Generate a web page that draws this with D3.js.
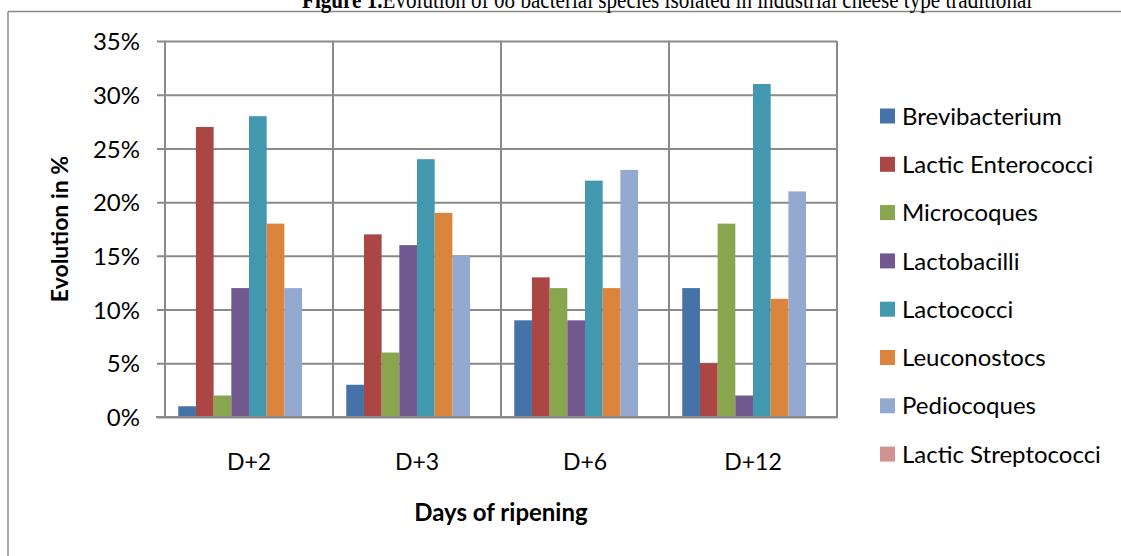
<!DOCTYPE html>
<html>
<head>
<meta charset="utf-8">
<script src="https://cdn.jsdelivr.net/npm/d3@7"></script>
<style>
  html, body { margin: 0; padding: 0; background: #fff; }
  svg { display: block; }
  text { font-family: Lato, "Open Sans", sans-serif; fill: #000; }
</style>
</head>
<body>
<svg id="chart" width="1121" height="556"></svg>
<script>
// Days of ripening (categories)
const days = ["D+2", "D+3", "D+6", "D+12"];
// Bacterial groups (series)
const species = ["Brevibacterium", "Lactic Enterococci", "Microcoques", "Lactobacilli",
                 "Lactococci", "Leuconostocs", "Pediocoques", "Lactic Streptococci"];
// Percentage of each group per day, one array per series
const brevibacterium     = [1, 3, 9, 12];
const lacticEnterococci  = [27, 17, 13, 5];
const microcoques        = [2, 6, 12, 18];
const lactobacilli       = [12, 16, 9, 2];
const lactococci         = [28, 24, 22, 31];
const leuconostocs       = [18, 19, 12, 11];
const pediocoques        = [12, 15, 23, 21];
const lacticStreptococci = [0, 0, 0, 0];
const seriesValues = [brevibacterium, lacticEnterococci, microcoques, lactobacilli,
                      lactococci, leuconostocs, pediocoques, lacticStreptococci];
const colors = ["#4572A7", "#AA4643", "#89A54E", "#71588F",
                "#4198AF", "#DB843D", "#93A9CF", "#D19392"];
const yTicks = [0, 5, 10, 15, 20, 25, 30, 35];

const svg = d3.select("#chart");
const plot = { left: 165, right: 837, top: 41, bottom: 417 };
const gridColor = "#8a8a8a";

// Outer frame (top and left edges visible)
svg.append("line").attr("x1", 8).attr("x2", 1121).attr("y1", 11.5).attr("y2", 11.5)
  .attr("stroke", "#8a8a8a").attr("stroke-width", 1.5);
svg.append("line").attr("x1", 8).attr("x2", 8).attr("y1", 11.5).attr("y2", 556)
  .attr("stroke", "#8a8a8a").attr("stroke-width", 1.5);

// Title above the frame: bold figure number followed by the caption,
// squeezed horizontally to a condensed serif look
const title = svg.append("text")
  .attr("x", 0).attr("y", 0)
  .style("font-family", "'Liberation Serif', 'DejaVu Serif', serif")
  .style("font-size", "25px");
title.append("tspan").style("font-weight", "bold").text("Figure 1.");
title.append("tspan").text("Evolution of 08 bacterial species isolated in industrial cheese type traditional");
const titleW = title.node().getComputedTextLength();
title.attr("transform", `translate(302,8) scale(${731 / titleW},1)`);

const x0 = d3.scaleBand().domain(days).range([plot.left, plot.right]).paddingInner(0).paddingOuter(0);
const groupW = x0.bandwidth();
const barW = groupW / (species.length + 1.5);
const x1 = d3.scaleBand().domain(species)
  .range([barW * 0.75, barW * 0.75 + barW * species.length]);
const y = d3.scaleLinear().domain([0, 35]).range([plot.bottom, plot.top]);

// Horizontal gridlines with tick marks
const yAxis = d3.axisLeft(y).tickValues(yTicks).tickSize(plot.right - plot.left + 8)
  .tickFormat(d => d + "%");
const gy = svg.append("g").attr("transform", `translate(${plot.right},0)`).call(yAxis);
gy.select(".domain").remove();
gy.selectAll(".tick line").attr("stroke", gridColor).attr("stroke-width", 2);
gy.selectAll(".tick text").attr("x", -(plot.right - plot.left) - 25)
  .style("font-size", "24px").attr("dy", "0.36em");

// Vertical category dividers and plot edges
const dividers = days.map(d => x0(d)).concat([plot.right]);
svg.append("g").selectAll("line").data(dividers).join("line")
  .attr("x1", d => d).attr("x2", d => d)
  .attr("y1", plot.top).attr("y2", plot.bottom)
  .attr("stroke", gridColor).attr("stroke-width", 2);

// Bars
const groups = svg.append("g").selectAll("g").data(days).join("g")
  .attr("transform", d => `translate(${x0(d)},0)`);
groups.selectAll("rect")
  .data((d, i) => species.map((s, k) => ({ s, v: seriesValues[k][i], c: colors[k] })))
  .join("rect")
  .attr("x", d => x1(d.s))
  .attr("width", x1.bandwidth())
  .attr("y", d => y(d.v))
  .attr("height", d => plot.bottom - y(d.v))
  .attr("fill", d => d.c);

// Baseline over bars
svg.append("line").attr("x1", plot.left - 9).attr("x2", plot.right + 1)
  .attr("y1", plot.bottom).attr("y2", plot.bottom)
  .attr("stroke", gridColor).attr("stroke-width", 2);

// Category labels
const xAxis = d3.axisBottom(x0).tickSize(0);
const gx = svg.append("g").attr("transform", `translate(0,${plot.bottom})`).call(xAxis);
gx.select(".domain").remove();
gx.selectAll(".tick text").attr("y", 45).attr("dy", "0.36em").style("font-size", "23px");

// Axis titles
svg.append("text").attr("x", plot.left + (plot.right - plot.left) / 2).attr("y", 512)
  .attr("text-anchor", "middle").attr("dy", "0.36em")
  .style("font-weight", "bold").style("font-size", "24px").text("Days of ripening");
svg.append("text")
  .attr("transform", `translate(60,${(plot.top + plot.bottom) / 2}) rotate(-90)`)
  .attr("text-anchor", "middle").attr("dy", "0.36em")
  .style("font-weight", "bold").style("font-size", "23px").text("Evolution in %");

// Legend
const legend = svg.append("g").selectAll("g").data(species).join("g")
  .attr("transform", (d, i) => `translate(880,${116 + i * 48.3})`);
legend.append("rect").attr("x", 0).attr("y", -7.5).attr("width", 15).attr("height", 15)
  .attr("fill", (d, i) => colors[i]);
legend.append("text").attr("x", 22).attr("dy", "0.36em").style("font-size", "24px").text(d => d);
</script>
</body>
</html>
